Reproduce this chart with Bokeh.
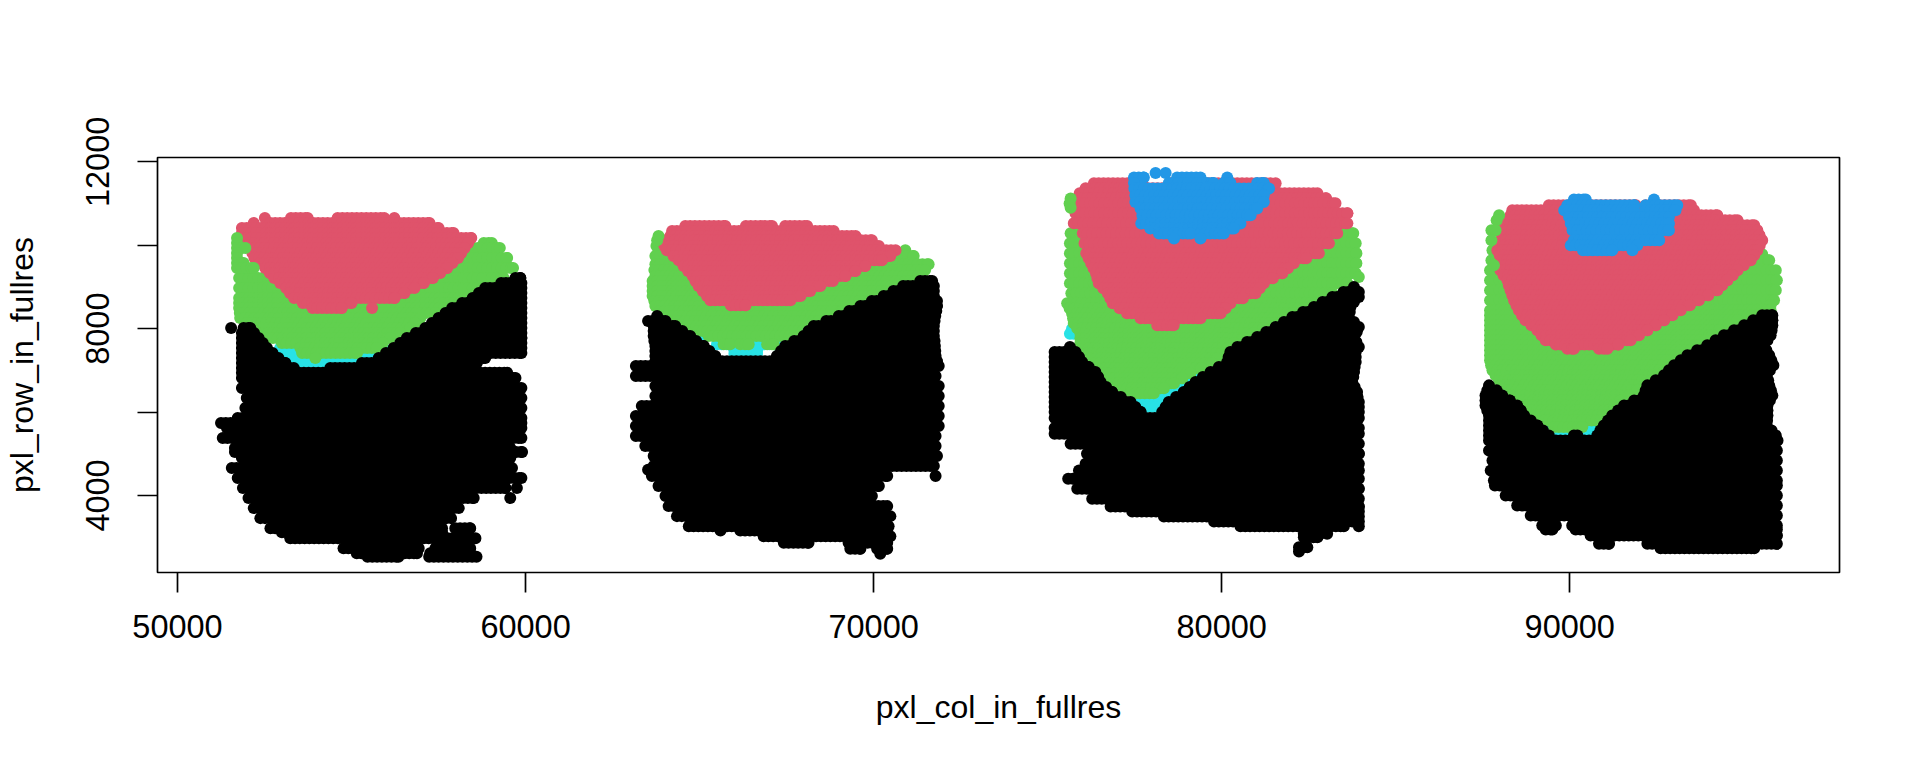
import numpy as np
from bokeh.plotting import figure
from bokeh.embed import file_html
from bokeh.resources import INLINE
from bokeh.models import FixedTicker

# Spots, one row of the capture lattice per entry:
# (pxl_row, first pxl_col, last pxl_col). A row's spots sit on the 137-unit lattice pitch.
t1_red = [(10656,52510,52510),(10656,53260,53740),(10656,54600,55940),(10656,56230,56230),(10536,52190,52190),(10536,52670,57240),(10416,51850,57500),(10296,51850,57930),(10176,51850,58440),(10056,51950,58350),(9936,52090,58250),(9816,52150,58150),(9696,52210,58060),(9576,52360,57900),(9456,52520,57750),(9336,52650,57550),(9216,52780,57340),(9096,52950,57080),(8976,53120,56810),(8856,53230,56520),(8736,53350,56240),(8616,53600,55000),(8496,53880,54720),(8496,55590,55590)]
t1_green = [(10056,58800,59030),(9936,58220,59260),(9696,57260,59470),(9456,56300,59640),(9216,51770,59370),(8976,51770,58800),(8736,51770,58320),(8616,51770,58080),(8496,51770,57840),(8376,51790,57400),(8256,51800,56980),(8136,52000,56830),(8016,52190,56690),(7896,52330,56400),(7776,52470,56110),(7656,53000,55900),(7536,53530,55730),(7416,53580,55160),(7296,53960,53960)]
t1_green_top = [(10176,51710,51710),(10056,51710,51710),(9936,51710,51950),(9816,51710,51710),(9696,51710,51710),(9576,51710,51900),(9456,51710,52190)]
t1_cyan = [(7536,52950,55920),(7416,53000,55700),(7296,53240,55540),(7200,53300,55400)]
t1_black = [(9216,59710,59850),(9096,59300,59880),(8976,58840,59880),(8856,58660,59880),(8736,58480,59880),(8616,58180,59880),(8496,57890,59880),(8376,57700,59880),(8256,57500,59880),(8136,57310,59880),(8016,51540,51540),(8016,51900,52090),(8016,57120,59880),(7896,51850,52200),(7896,56850,59880),(7776,51850,52330),(7776,56590,59880),(7656,51850,52450),(7656,56400,59880),(7536,51850,52570),(7536,56210,59880),(7416,51850,52730),(7416,55990,59880),(7296,51850,52900),(7296,55780,58840),(7176,51850,53100),(7176,55300,58600),(7056,51850,53340),(7056,54390,58370),(6944,51850,59470),(6816,51850,59710),(6576,51850,59880),(6336,51990,59880),(6096,51950,59880),(5856,51730,59880),(5736,51250,59880),(5616,51420,59880),(5376,51300,59880),(5136,51650,59560),(5040,51650,59900),(4896,51850,59560),(4656,51560,59610),(4416,51730,59880),(4176,51880,59420),(4176,59750,59750),(3936,52040,58510),(3936,59560,59560),(3696,52190,58080),(3456,52380,57860),(3216,52670,57600),(3216,57980,58410),(3120,53000,57600),(2976,53240,58560),(2736,54770,56930),(2736,57410,58410),(2616,55150,56880),(2616,57260,58410),(2528,55460,56350),(2528,57230,58590)]

t2_red = [(10464,64590,65740),(10464,66330,67080),(10464,67460,68090),(10344,64210,68850),(10224,64160,69480),(10120,64020,69950),(9984,63990,70150),(9880,64060,70630),(9744,64250,70480),(9640,64400,70240),(9504,64540,69760),(9384,64670,69480),(9264,64800,69190),(9144,64880,68830),(9024,64970,68470),(8904,65090,68180),(8784,65210,67900),(8680,65310,67610),(8560,65900,66320)]
t2_green = [(9880,70910,70910),(9984,63760,64160),(9744,63730,71150),(9544,63730,71580),(9404,63700,71480),(9264,63730,71390),(9144,63650,71200),(9024,63650,71010),(8904,63650,70650),(8784,63650,70290),(8664,63700,69860),(8544,63730,69430),(8424,63850,69100),(8304,63970,68760),(8184,64300,68420),(8064,64640,68090),(7944,64950,67970),(7824,65260,67850),(7624,65690,65880),(7624,66170,66410),(7624,66940,67130)]
t2_green_top = [(10224,63820,63820),(10120,63780,63780)]
t2_cyan = [(7824,65140,65140),(7824,68050,68050),(7624,65500,67270),(7480,66000,66000),(7480,66510,66650),(7400,66000,66650)]
t2_black = [(9144,71340,71680),(9024,70850,71730),(8904,70570,71730),(8784,70290,71730),(8664,69950,71820),(8544,69620,71820),(8424,69300,71800),(8304,63780,63780),(8304,69000,71770),(8184,63520,64020),(8184,68640,71750),(8064,63680,64300),(8064,68280,71730),(7944,63680,64500),(7944,68130,71730),(7824,63680,64730),(7824,67990,71730),(7704,63700,64900),(7704,67720,71750),(7584,63730,65120),(7584,67460,71760),(7464,63730,65280),(7464,67340,71770),(7344,63730,65450),(7344,67220,71780),(7216,63730,71820),(7104,63170,71870),(6864,63170,71780),(6624,63730,71870),(6384,63730,71870),(6144,63340,71870),(5904,63170,71870),(5664,63170,71870),(5424,63170,71780),(5184,63440,71780),(4944,63680,71820),(4704,63680,71730),(4616,63520,63520),(4464,63630,70390),(4464,71780,71780),(4224,63820,70150),(3984,64020,69950),(3744,64110,70390),(3504,64350,70480),(3264,64690,70430),(3160,65600,65600),(3160,66170,70390),(3024,66840,70480),(2864,67420,68130),(2864,69280,70390),(2720,69330,69620),(2720,70100,70390),(2600,70190,70190)]

t3_red = [(11488,76330,77720),(11488,78530,81400),(11488,81550,81550),(11368,76090,81500),(11248,75920,82750),(11128,75860,83000),(11008,75800,83270),(10768,75800,83610),(10528,75750,83610),(10288,76010,83320),(10048,76060,83080),(9808,76110,82790),(9688,76180,82430),(9568,76250,82070),(9448,76320,81900),(9328,76390,81740),(9208,76430,81470),(9088,76470,81210),(8968,76600,81090),(8848,76730,80970),(8728,76800,80610),(8608,76870,80250),(8488,77070,80110),(8368,77280,79970),(8248,77670,79390),(8080,78150,78620)]
t3_green = [(10288,75660,83780),(10048,75640,83850),(9808,75640,83870),(9568,75640,83870),(9328,75640,83850),(9240,83940,83940),(9088,75640,83610),(8848,75680,83180),(8608,75560,82740),(8488,75630,82400),(8368,75700,82070),(8248,75730,81780),(8128,75750,81500),(8008,75850,81200),(7888,75940,80920),(7768,75940,80630),(7648,75940,80350),(7528,76040,80180),(7408,76140,80010),(7288,76250,79870),(7168,76370,79730),(7048,76510,79420),(6928,76660,79100),(6808,76780,78870),(6688,76900,78630),(6568,77140,78340),(6448,77380,78050)]
t3_green_top = [(11120,75660,75660),(11000,75630,75630),(10900,75660,75660)]
t3_cyan = [(8000,75700,75700),(7880,75640,75750),(7168,76140,76470),(7000,76400,79500),(6960,76470,76470),(6960,79560,79560),(6840,76600,79300),(6688,76810,76810),(6688,79100,79100),(6600,76900,79000),(6480,77050,77380),(6480,78620,78820),(6360,77300,78600),(6240,77720,78190),(6120,77860,78100)]
t3_black = [(9000,83800,83800),(8880,83500,83940),(8760,83180,83940),(8640,82900,83800),(8520,82650,83700),(8400,82340,83680),(8280,82030,83650),(8160,81790,83800),(8040,81550,83940),(7920,81280,83880),(7800,81020,83800),(7680,80730,83870),(7560,75640,75640),(7560,80450,83940),(7440,75200,75800),(7440,80250,83850),(7320,75200,75900),(7320,80200,83850),(7200,75200,75990),(7200,80160,83850),(7080,75200,76180),(7080,79920,83820),(6960,75200,76370),(6960,79680,83800),(6840,75200,76450),(6840,79460,83780),(6720,75200,76520),(6720,79250,83750),(6600,75200,76680),(6600,79080,83820),(6480,75200,76850),(6480,78910,83890),(6360,75200,77100),(6360,78690,83900),(6240,75200,77380),(6240,78480,83940),(6120,75200,77520),(6120,78390,83940),(6000,75200,77670),(6000,78290,83940),(5856,75200,83940),(5616,75200,83940),(5480,75200,83940),(5240,75660,83940),(5000,76130,83940),(4760,76090,83940),(4600,75900,83940),(4400,75590,83940),(4160,75850,83940),(3920,76280,83940),(3736,76810,83940),(3616,77430,83940),(3496,78340,83940),(3376,79780,83940),(3264,80540,83510),(3264,83940,83940),(3080,82360,82840),(3080,83030,83030),(3000,82360,82750),(2760,82220,82460),(2656,82220,82220)]
t3_blue = [(11736,78100,78100),(11736,78390,78390),(11624,77480,77760),(11624,78720,79390),(11624,80160,80160),(11496,77480,77480),(11496,78480,79770),(11496,80060,80250),(11496,81020,81210),(11360,77490,81360),(11200,77520,81210),(11040,77520,81210),(10880,77670,81020),(10720,77720,80830),(10520,77690,80540),(10400,77950,80350),(10280,78200,79110),(10280,79390,80060),(10160,78630,78630),(10160,79390,79390)]

t4_red = [(10960,89400,91900),(10960,92180,93480),(10840,88350,91850),(10840,92180,93570),(10720,88300,94240),(10600,88160,94820),(10480,88110,95300),(10360,88060,95390),(10240,88050,95450),(10120,88030,95530),(10000,88000,95460),(9880,87920,95390),(9760,87990,95300),(9640,88060,95200),(9520,88030,95000),(9400,88010,94820),(9280,88100,94680),(9160,88210,94530),(9040,88250,94380),(8920,88300,94240),(8800,88350,93980),(8680,88400,93710),(8560,88470,93450),(8440,88540,93190),(8320,88630,92950),(8200,88730,92710),(8080,88900,92470),(7960,89070,92230),(7840,89190,91990),(7720,89310,91750),(7620,89600,91400),(7520,89930,90120),(7520,90840,91080)]
t4_green = [(9784,95530,95530),(9880,87780,87780),(9640,87750,95730),(9400,87710,95920),(9160,87710,95950),(8920,87710,95920),(8680,87710,95870),(8560,95770,95770),(8440,87710,95770),(8320,87710,95300),(8200,87710,94820),(8080,87710,94550),(7960,87710,94290),(7840,87710,94100),(7720,87710,93910),(7600,87710,93700),(7480,87710,93480),(7360,87710,93330),(7240,87710,93190),(7120,87740,93000),(7000,87780,92800),(6880,87870,92660),(6760,87970,92520),(6640,88010,92230),(6520,88060,91940),(6400,88300,91700),(6280,88540,91460),(6160,88660,91370),(6040,88780,91270),(5920,89020,91080),(5800,89260,90890),(5640,89550,90360)]
t4_green_top = [(10720,87970,87970),(10600,87900,87900),(10360,87750,87870),(10120,87750,87750),(9520,87820,87820)]
t4_cyan = [(6760,92450,92450),(6400,88060,88060),(6400,88200,91800),(6400,91870,91870),(6240,91560,91900),(6160,88500,91500),(6040,88590,88830),(6040,91370,91370),(5920,88900,91200),(5760,89210,89210),(5760,90700,90980),(5720,89300,90800),(5600,89640,89930),(5600,90550,90750),(5520,89600,90500),(5480,89690,89840),(5480,90550,90550)]
t4_black = [(8320,95530,95820),(8200,95270,95820),(8080,95010,95820),(7960,94720,95800),(7840,94430,95770),(7720,94190,95680),(7600,93950,95580),(7480,93660,95650),(7360,93380,95730),(7240,93190,95790),(7120,93000,95850),(7000,92850,95750),(6880,92710,95660),(6760,92470,95700),(6640,87680,87680),(6640,92230,95730),(6520,87630,87900),(6520,92180,95780),(6400,87580,88060),(6400,92130,95820),(6280,87580,88280),(6280,91850,95750),(6160,87580,88490),(6160,91560,95680),(6040,87630,88590),(6040,91390,95680),(5920,87680,88690),(5920,91220,95680),(5800,87680,88880),(5800,91100,95670),(5680,87680,89070),(5680,90980,95660),(5560,87680,89230),(5560,90880,95800),(5440,87680,89400),(5440,90120,90220),(5440,90790,95920),(5320,87680,95970),(5080,87680,95950),(4840,87780,95950),(4600,87730,95950),(4360,87820,95950),(4240,87850,95950),(4000,88160,95950),(3760,88490,95950),(3520,88880,95950),(3280,89210,89600),(3280,90070,95950),(3184,89310,89500),(3184,90170,95950),(3040,90600,95950),(2840,90840,91130),(2840,92230,95950),(2736,92610,95300)]
t4_blue = [(11096,90120,90460),(11096,92420,92420),(10960,89930,91850),(10960,92180,93090),(10840,89840,91850),(10840,92180,93040),(10680,89980,92850),(10520,90030,92850),(10360,90080,92850),(10120,90120,92570),(10000,90030,91940),(9880,90380,91220),(9880,91800,91800)]

x_ticks = [50000, 60000, 70000, 80000, 90000]
y_ticks = [4000, 6000, 8000, 10000, 12000]
y_labels = {4000: "4000", 6000: "", 8000: "8000", 10000: "", 12000: "12000"}
x_title = "pxl_col_in_fullres"
y_title = "pxl_row_in_fullres"

LATTICE_PITCH = 137


def spots(*tables):
    xs, ys = [], []
    for table in tables:
        for y, x0, x1 in table:
            row = list(np.arange(x0, x1, LATTICE_PITCH)) + [x1]
            xs.extend(float(v) for v in row)
            ys.extend([float(y)] * len(row))
    return xs, ys


p = figure(width=1904, height=752, output_backend="svg", toolbar_location=None,
           x_range=(49425, 97750), y_range=(2152, 12105),
           min_border_left=157, min_border_right=65, min_border_top=157, min_border_bottom=180)
p.frame_width = 1682
p.frame_height = 415
p.grid.visible = False
p.outline_line_color = "black"
p.outline_line_width = 1.7
p.background_fill_color = "white"
p.border_fill_color = "white"

layers = [
    ("#28E2E5", (t1_cyan, t2_cyan, t3_cyan, t4_cyan)),
    ("#61D04F", (t1_green, t2_green, t3_green, t4_green)),
    ("#DF536B", (t1_red, t2_red, t3_red, t4_red)),
    ("#61D04F", (t1_green_top, t2_green_top, t3_green_top, t4_green_top)),
    ("#000000", (t1_black, t2_black, t3_black, t4_black)),
    ("#2297E6", (t3_blue, t4_blue)),
]
for color, tables in layers:
    xs, ys = spots(*tables)
    p.scatter(xs, ys, size=12, marker="circle", fill_color=color, line_color=None)

for ax, ticks in ((p.xaxis, x_ticks), (p.yaxis, y_ticks)):
    ax.ticker = FixedTicker(ticks=ticks)
    ax.axis_line_color = None
    ax.major_tick_in = 0
    ax.major_tick_out = 20
    ax.major_tick_line_width = 1.7
    ax.major_tick_line_color = "black"
    ax.minor_tick_line_color = None
    ax.major_label_text_font = "Liberation Sans"
    ax.major_label_text_font_size = "32.5px"
    ax.major_label_text_color = "black"
    ax.axis_label_text_font = "Liberation Sans"
    ax.axis_label_text_font_size = "32px"
    ax.axis_label_text_font_style = "normal"
    ax.axis_label_text_color = "black"

p.xaxis.axis_label = x_title
p.yaxis.axis_label = y_title
p.xaxis.major_label_standoff = 22
p.xaxis.axis_label_standoff = 48
p.yaxis.major_label_orientation = "vertical"
p.yaxis.major_label_overrides = y_labels
p.yaxis.major_label_standoff = 28
p.yaxis.axis_label_standoff = 44

open("out.html", "w").write(file_html(p, INLINE))
